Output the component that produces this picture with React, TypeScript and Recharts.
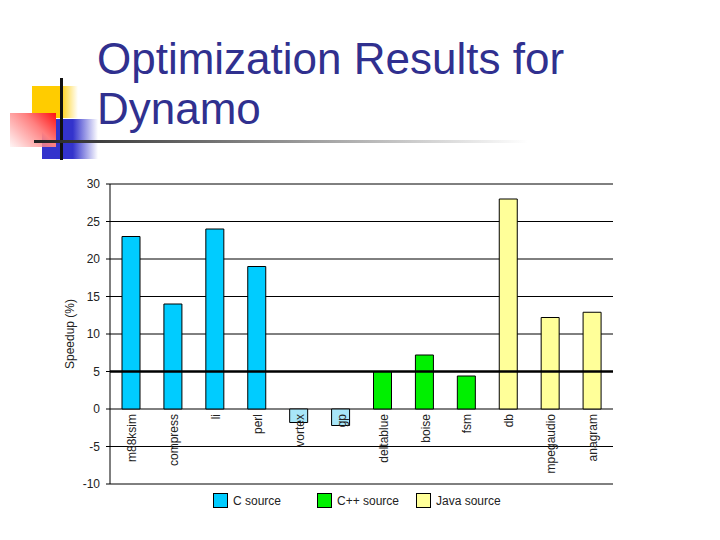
import { BarChart, Bar, Cell, XAxis, YAxis, CartesianGrid, ReferenceLine } from 'recharts';

const categories = ['m88ksim', 'compress', 'li', 'perl', 'vortex', 'gp', 'deltablue', 'boise', 'fsm', 'db', 'mpegaudio', 'anagram'];
const cValues = [23, 14, 24, 19, -1.8, -2.2, null, null, null, null, null, null];
const cppValues = [null, null, null, null, null, null, 5, 7.2, 4.4, null, null, null];
const javaValues = [null, null, null, null, null, null, null, null, null, 28, 12.2, 12.9];
const yTicks = [-10, -5, 0, 5, 10, 15, 20, 25, 30];

const seriesNames = ['C source', 'C++ source', 'Java source'];
const seriesColors = ['#00CCFF', '#00F000', '#FFFF99'];
const negativeC = '#A8E6F8';

const data = categories.map((name, i) => ({
  name,
  c: cValues[i],
  cpp: cppValues[i],
  java: javaValues[i],
}));

const CHART_W = 720;
const CHART_H = 540;
const X_AXIS_H = 30;
const MARGIN = { top: 184, right: 107, bottom: 56 - X_AXIS_H, left: 0 };
const Y_MIN = -10;
const Y_MAX = 30;
const PLOT_H = CHART_H - MARGIN.top - MARGIN.bottom - X_AXIS_H;
const ZERO_LIFT = PLOT_H * (0 - Y_MIN) / (Y_MAX - Y_MIN);

const FONT = '"Liberation Sans", Arial, sans-serif';

// category names hang just under the zero line, reading upward
function CategoryTick(props: any) {
  const { x, y, payload } = props;
  return (
    <text
      transform={`translate(${x + 1},${y - ZERO_LIFT + 5}) rotate(-90)`}
      textAnchor="end"
      dy="0.35em"
      fontSize={12}
      fontFamily={FONT}
      fill="#222"
    >
      {payload.value}
    </text>
  );
}

function Logo() {
  return (
    <>
      <div style={{ position: 'absolute', left: 32, top: 86, width: 46, height: 32, background: 'linear-gradient(to right, #FFCC00 0%, #FFCC00 60%, rgba(255,204,0,0) 100%)' }} />
      <div style={{ position: 'absolute', left: 42, top: 119, width: 56, height: 40, background: 'linear-gradient(to right, #3333CC 0%, #3333CC 55%, rgba(51,51,204,0) 100%)' }} />
      <div style={{ position: 'absolute', left: 10, top: 113, width: 46, height: 34, background: 'linear-gradient(225deg, #ff1010 0%, #ff8080 40%, rgba(255,225,225,0.3) 100%)' }} />
      <div style={{ position: 'absolute', left: 60, top: 78, width: 3, height: 82, background: '#111' }} />
      <div style={{ position: 'absolute', left: 34, top: 140, width: 494, height: 3, background: 'linear-gradient(to right, #222 0%, #fff 100%)' }} />
    </>
  );
}

const legendLeft = [213, 317, 416];

export default function App() {
  return (
    <div style={{ position: 'absolute', left: 0, top: 0, width: CHART_W, height: CHART_H, background: '#fff', overflow: 'hidden' }}>
      <Logo />
      <div
        style={{
          position: 'absolute',
          left: 97,
          top: 34,
          fontFamily: FONT,
          fontSize: 44,
          lineHeight: '50px',
          color: '#30308F',
          whiteSpace: 'nowrap',
        }}
      >
        Optimization Results for
        <br />
        Dynamo
      </div>

      <div style={{ position: 'absolute', left: 0, top: 0 }}>
        <BarChart width={CHART_W} height={CHART_H} data={data} margin={MARGIN} stackOffset="sign">
          <CartesianGrid vertical={false} stroke="#000" strokeWidth={1} />
          <XAxis
            dataKey="name"
            height={X_AXIS_H}
            axisLine={false}
            tickLine={false}
            tickSize={0}
            tickMargin={0}
            interval={0}
            tick={(p: any) => <CategoryTick {...p} />}
          />
          <YAxis
            width={110}
            domain={[Y_MIN, Y_MAX]}
            ticks={yTicks}
            interval={0}
            axisLine={{ stroke: '#000' }}
            tickLine={{ stroke: '#000' }}
            tickSize={4}
            tickMargin={6}
            tick={{ fontSize: 12, fontFamily: FONT, fill: '#222' }}
            label={{
              value: 'Speedup (%)',
              angle: -90,
              position: 'insideLeft',
              offset: 70,
              style: { textAnchor: 'middle', fontSize: 12, fontFamily: FONT, fill: '#222' },
            }}
          />
          <ReferenceLine y={5} stroke="#000" strokeWidth={2.5} />
          <Bar dataKey="c" stackId="s" barSize={18} stroke="#000" strokeWidth={1} fill={seriesColors[0]} isAnimationActive={false}>
            {data.map((d, i) => (
              <Cell key={`c-${i}`} fill={d.c != null && d.c < 0 ? negativeC : seriesColors[0]} />
            ))}
          </Bar>
          <Bar dataKey="cpp" stackId="s" barSize={18} stroke="#000" strokeWidth={1} fill={seriesColors[1]} isAnimationActive={false} />
          <Bar dataKey="java" stackId="s" barSize={18} stroke="#000" strokeWidth={1} fill={seriesColors[2]} isAnimationActive={false} />
        </BarChart>
      </div>

      {seriesNames.map((name, i) => (
        <div
          key={name}
          style={{
            position: 'absolute',
            left: legendLeft[i],
            top: 493,
            display: 'flex',
            alignItems: 'center',
            fontFamily: FONT,
            fontSize: 12,
            color: '#222',
          }}
        >
          <span style={{ display: 'inline-block', width: 13, height: 13, background: seriesColors[i], border: '1px solid #000', marginRight: 5 }} />
          {name}
        </div>
      ))}
    </div>
  );
}
